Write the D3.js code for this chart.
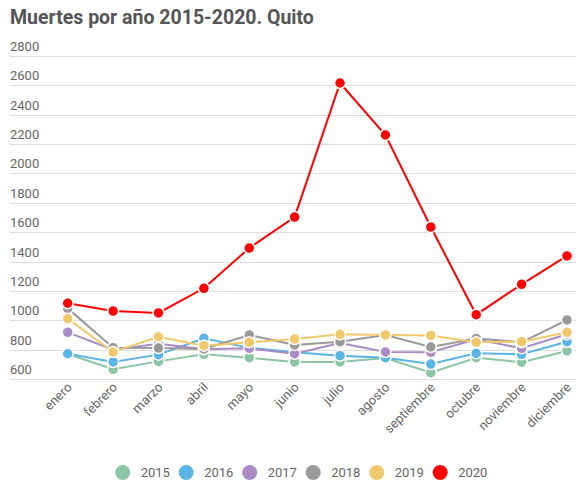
<!DOCTYPE html>
<html lang="es">
<head>
    <meta charset="UTF-8">
    <title>Muertes por año 2015-2020. Quito</title>
    <script src="https://cdn.jsdelivr.net/npm/d3@7/dist/d3.min.js"></script>
    <style>
        body { margin: 0; background: #fff; font-family: Roboto, "Noto Sans", sans-serif; }
        .title { font-size: 19.5px; font-weight: bold; fill: #555; }
        .tick-label { font-size: 13px; fill: #666; }
        .legend-label { font-size: 13px; fill: #666; }
    </style>
</head>
<body>
<div id="chart"></div>
<script>
    // chart data
    const months = ['enero', 'febrero', 'marzo', 'abril', 'mayo', 'junio', 'julio',
        'agosto', 'septiembre', 'octubre', 'noviembre', 'diciembre'];
    const years = ['2015', '2016', '2017', '2018', '2019', '2020'];
    const colors = ['#8cc5a5', '#5ab4e5', '#a98bc6', '#999999', '#f1c86b', '#ff0000'];
    const yTicks = [600, 800, 1000, 1200, 1400, 1600, 1800, 2000, 2200, 2400, 2600, 2800];

    const d2015 = [770, 666, 720, 768, 745, 716, 716, 743, 643, 745, 714, 791];
    const d2016 = [772, 716, 766, 877, 812, 782, 759, 745, 702, 775, 768, 854];
    const d2017 = [918, 800, 840, 802, 809, 772, 845, 784, 782, 870, 809, 905];
    const d2018 = [1081, 813, 811, 805, 900, 832, 854, 900, 818, 876, 850, 1002];
    const d2019 = [1011, 784, 887, 827, 850, 872, 904, 900, 897, 850, 854, 918];
    const d2020 = [1116, 1063, 1050, 1218, 1492, 1703, 2616, 2262, 1635, 1038, 1245, 1438];

    const series = [d2015, d2016, d2017, d2018, d2019, d2020];

    const width = 580, height = 484;

    const svg = d3.select('#chart').append('svg')
        .attr('width', width)
        .attr('height', height);

    const x = d3.scalePoint()
        .domain(months)
        .range([67.7, 567]);

    const y = d3.scaleLinear()
        .domain([600, 2800])
        .range([379, 56]);

    // title
    svg.append('text')
        .attr('class', 'title')
        .attr('x', 10)
        .attr('y', 24)
        .text('Muertes por año 2015-2020. Quito');

    // gridlines + labels
    const grid = svg.append('g');
    grid.selectAll('line')
        .data(yTicks)
        .enter()
        .append('line')
        .attr('x1', 10)
        .attr('x2', 576)
        .attr('y1', d => Math.round(y(d)) + 0.5)
        .attr('y2', d => Math.round(y(d)) + 0.5)
        .attr('stroke', '#dddddd')
        .attr('stroke-width', 1);
    grid.selectAll('text')
        .data(yTicks)
        .enter()
        .append('text')
        .attr('class', 'tick-label')
        .attr('x', 10)
        .attr('y', d => y(d) - 5)
        .text(d => d);

    // month labels, rotated
    svg.append('g')
        .selectAll('text')
        .data(months)
        .enter()
        .append('text')
        .attr('class', 'tick-label')
        .attr('text-anchor', 'end')
        .attr('transform', d => `translate(${x(d) + 5},${388}) rotate(-45)`)
        .text(d => d);

    const line = d3.line()
        .x((d, i) => x(months[i]))
        .y(d => y(d));

    // lines and points
    series.forEach((s, k) => {
        const g = svg.append('g');
        g.append('path')
            .datum(s)
            .attr('d', line)
            .attr('fill', 'none')
            .attr('stroke', colors[k])
            .attr('stroke-width', 2);
        g.selectAll('circle')
            .data(s)
            .enter()
            .append('circle')
            .attr('cx', (d, i) => x(months[i]))
            .attr('cy', d => y(d))
            .attr('r', 5.5)
            .attr('fill', colors[k])
            .attr('stroke', '#fff')
            .attr('stroke-width', 1.5);
    });

    // legend
    const legend = svg.append('g')
        .selectAll('g')
        .data(years)
        .enter()
        .append('g')
        .attr('transform', (d, i) => `translate(${122.7 + i * 63.5},472.5)`);
    legend.append('circle')
        .attr('r', 7.5)
        .attr('fill', (d, i) => colors[i]);
    legend.append('text')
        .attr('class', 'legend-label')
        .attr('x', 18)
        .attr('y', 4.5)
        .text(d => d);
</script>
</body>
</html>
